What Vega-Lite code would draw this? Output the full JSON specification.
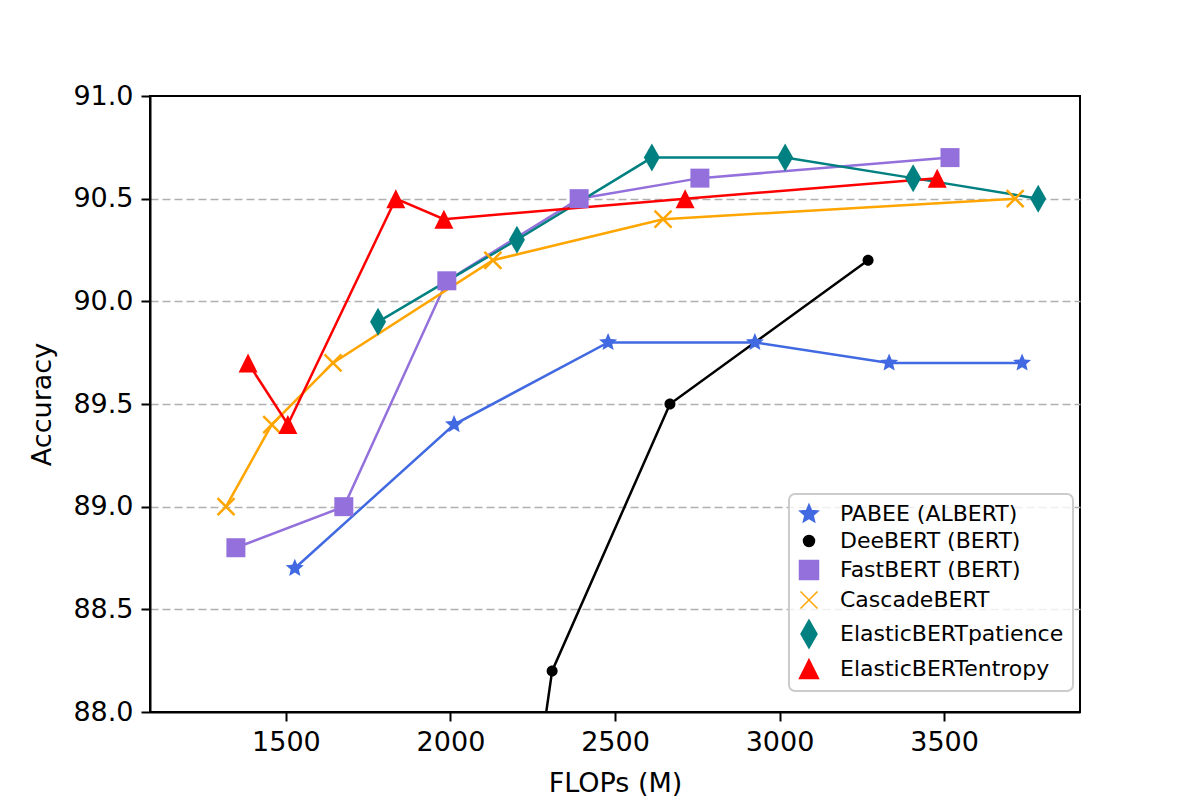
{
  "$schema": "https://vega.github.io/schema/vega-lite/v6.json",
  "width": 930,
  "height": 616,
  "autosize": {"type": "none"},
  "padding": {"left": 150, "top": 96, "right": 120, "bottom": 88},
  "background": "white",
  "config": {
    "font": "DejaVu Sans",
    "view": {"stroke": "black", "strokeWidth": 2},
    "axis": {
      "domainColor": "black",
      "domainWidth": 2,
      "tickColor": "black",
      "tickWidth": 2,
      "tickSize": 9,
      "labelFont": "DejaVu Sans",
      "labelFontSize": 27,
      "labelColor": "black",
      "labelPadding": 8,
      "titleFont": "DejaVu Sans",
      "titleFontSize": 27,
      "titleFontWeight": "normal",
      "titleColor": "black"
    },
    "legend": {"strokeWidth": 2, "symbolSize": 400}
  },
  "data": {
    "values": [
      {"model": "PABEE (ALBERT)", "flops": 1527, "acc": 88.7},
      {"model": "PABEE (ALBERT)", "flops": 2011, "acc": 89.4},
      {"model": "PABEE (ALBERT)", "flops": 2479, "acc": 89.8},
      {"model": "PABEE (ALBERT)", "flops": 2925, "acc": 89.8},
      {"model": "PABEE (ALBERT)", "flops": 3333, "acc": 89.7},
      {"model": "PABEE (ALBERT)", "flops": 3737, "acc": 89.7},
      {"model": "DeeBERT (BERT)", "flops": 1215, "acc": 76.0},
      {"model": "DeeBERT (BERT)", "flops": 2309, "acc": 88.2},
      {"model": "DeeBERT (BERT)", "flops": 2667, "acc": 89.5},
      {"model": "DeeBERT (BERT)", "flops": 3269, "acc": 90.2},
      {"model": "FastBERT (BERT)", "flops": 1348, "acc": 88.8},
      {"model": "FastBERT (BERT)", "flops": 1676, "acc": 89.0},
      {"model": "FastBERT (BERT)", "flops": 1989, "acc": 90.1},
      {"model": "FastBERT (BERT)", "flops": 2391, "acc": 90.5},
      {"model": "FastBERT (BERT)", "flops": 2758, "acc": 90.6},
      {"model": "FastBERT (BERT)", "flops": 3518, "acc": 90.7},
      {"model": "CascadeBERT", "flops": 1318, "acc": 89.0},
      {"model": "CascadeBERT", "flops": 1457, "acc": 89.4},
      {"model": "CascadeBERT", "flops": 1643, "acc": 89.7},
      {"model": "CascadeBERT", "flops": 2129, "acc": 90.2},
      {"model": "CascadeBERT", "flops": 2646, "acc": 90.4},
      {"model": "CascadeBERT", "flops": 3716, "acc": 90.5},
      {"model": "ElasticBERTpatience", "flops": 1780, "acc": 89.9},
      {"model": "ElasticBERTpatience", "flops": 2202, "acc": 90.3},
      {"model": "ElasticBERTpatience", "flops": 2612, "acc": 90.7},
      {"model": "ElasticBERTpatience", "flops": 3017, "acc": 90.7},
      {"model": "ElasticBERTpatience", "flops": 3406, "acc": 90.6},
      {"model": "ElasticBERTpatience", "flops": 3786, "acc": 90.5},
      {"model": "ElasticBERTentropy", "flops": 1385, "acc": 89.7},
      {"model": "ElasticBERTentropy", "flops": 1506, "acc": 89.4},
      {"model": "ElasticBERTentropy", "flops": 1834, "acc": 90.5},
      {"model": "ElasticBERTentropy", "flops": 1980, "acc": 90.4},
      {"model": "ElasticBERTentropy", "flops": 2713, "acc": 90.5},
      {"model": "ElasticBERTentropy", "flops": 3479, "acc": 90.6}
    ]
  },
  "encoding": {
    "x": {
      "field": "flops",
      "type": "quantitative",
      "scale": {"domain": [1087, 3913], "nice": false, "zero": false},
      "axis": {
        "title": "FLOPs (M)",
        "values": [1500, 2000, 2500, 3000, 3500],
        "format": "d",
        "grid": false,
        "titlePadding": 15
      }
    },
    "y": {
      "field": "acc",
      "type": "quantitative",
      "scale": {"domain": [88, 91], "nice": false, "zero": false},
      "axis": {
        "title": "Accuracy",
        "values": [88, 88.5, 89, 89.5, 90, 90.5, 91],
        "format": ".1f",
        "grid": true,
        "gridColor": "#b0b0b0",
        "gridWidth": 1.6,
        "gridDash": [8, 4],
        "gridOpacity": {"condition": {"test": "datum.value <= 88 || datum.value >= 91", "value": 0}, "value": 1},
        "titlePadding": 16
      }
    },
    "color": {
      "field": "model",
      "type": "nominal",
      "scale": {
        "domain": ["PABEE (ALBERT)", "DeeBERT (BERT)", "FastBERT (BERT)", "CascadeBERT", "ElasticBERTpatience", "ElasticBERTentropy"],
        "range": ["#4169e1", "#000000", "#9370db", "#ffa500", "#008080", "#ff0000"]
      },
      "legend": {
        "title": null,
        "orient": "none",
        "legendX": 639,
        "legendY": 398,
        "labelFont": "DejaVu Sans",
        "labelFontSize": 22,
        "labelColor": "black",
        "labelLimit": 400,
        "fillColor": "rgba(255,255,255,0.8)",
        "strokeColor": "#cccccc",
        "cornerRadius": 6,
        "padding": 9,
        "rowPadding": 5,
        "labelOffset": 20
      }
    }
  },
  "layer": [
    {
      "mark": {"type": "line", "strokeWidth": 2.5, "clip": true},
      "encoding": {}
    },
    {
      "mark": {"type": "point", "filled": true, "size": 400, "opacity": 1, "clip": true, "stroke": "#ffa500"},
      "encoding": {
        "shape": {
          "field": "model",
          "type": "nominal",
          "scale": {
            "domain": ["PABEE (ALBERT)", "DeeBERT (BERT)", "FastBERT (BERT)", "CascadeBERT", "ElasticBERTpatience", "ElasticBERTentropy"],
            "range": [
              "M0,-0.95L0.253,-0.348L0.904,-0.294L0.409,0.133L0.558,0.769L0,0.43L-0.558,0.769L-0.409,0.133L-0.904,-0.294L-0.253,-0.348Z",
              "M-0.55,0A0.55,0.55,0,1,0,0.55,0A0.55,0.55,0,1,0,-0.55,0Z",
              "M-0.95,-0.95L0.95,-0.95L0.95,0.95L-0.95,0.95Z",
              "M-0.85,-0.85L0.85,0.85M-0.85,0.85L0.85,-0.85",
              "M0,-1.4L0.8,0L0,1.4L-0.8,0Z",
              "M0,-0.95L0.95,0.95L-0.95,0.95Z"
            ]
          },
          "legend": null
        },
        "strokeWidth": {"condition": {"test": "datum.model === 'CascadeBERT'", "value": 2.5}, "value": 0}
      }
    }
  ]
}
